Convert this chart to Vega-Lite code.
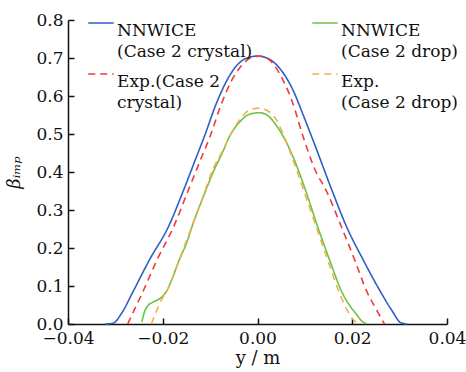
{
  "$schema": "https://vega.github.io/schema/vega-lite/v6.json",
  "width": 379,
  "height": 304,
  "autosize": {"type": "none"},
  "padding": {"left": 68, "top": 20, "right": 19, "bottom": 48},
  "config": {
    "view": {"stroke": null},
    "font": "DejaVu Serif",
    "axis": {
      "labelFont": "DejaVu Serif",
      "titleFont": "DejaVu Serif",
      "labelFontSize": 17,
      "titleFontSize": 18,
      "titleFontWeight": "normal",
      "labelColor": "#111",
      "titleColor": "#111",
      "domainColor": "#111",
      "tickColor": "#111",
      "domainWidth": 1.5,
      "tickWidth": 1.5,
      "tickSize": -6,
      "grid": false
    },
    "legend": {
      "labelFont": "DejaVu Serif"
    }
  },
  "data": {
    "values": [
      {"s": "NNWICE|(Case 2 crystal)", "x": -0.0322, "y": 0},
      {"s": "NNWICE|(Case 2 crystal)", "x": -0.0305, "y": 0.002},
      {"s": "NNWICE|(Case 2 crystal)", "x": -0.0286, "y": 0.030},
      {"s": "NNWICE|(Case 2 crystal)", "x": -0.0264, "y": 0.082},
      {"s": "NNWICE|(Case 2 crystal)", "x": -0.0228, "y": 0.169},
      {"s": "NNWICE|(Case 2 crystal)", "x": -0.0188, "y": 0.256},
      {"s": "NNWICE|(Case 2 crystal)", "x": -0.0158, "y": 0.346},
      {"s": "NNWICE|(Case 2 crystal)", "x": -0.0131, "y": 0.433},
      {"s": "NNWICE|(Case 2 crystal)", "x": -0.0112, "y": 0.494},
      {"s": "NNWICE|(Case 2 crystal)", "x": -0.0087, "y": 0.580},
      {"s": "NNWICE|(Case 2 crystal)", "x": -0.0065, "y": 0.640},
      {"s": "NNWICE|(Case 2 crystal)", "x": -0.0044, "y": 0.680},
      {"s": "NNWICE|(Case 2 crystal)", "x": -0.0020, "y": 0.701},
      {"s": "NNWICE|(Case 2 crystal)", "x": 0.0, "y": 0.705},
      {"s": "NNWICE|(Case 2 crystal)", "x": 0.0020, "y": 0.700},
      {"s": "NNWICE|(Case 2 crystal)", "x": 0.0046, "y": 0.674},
      {"s": "NNWICE|(Case 2 crystal)", "x": 0.0074, "y": 0.618},
      {"s": "NNWICE|(Case 2 crystal)", "x": 0.0099, "y": 0.542},
      {"s": "NNWICE|(Case 2 crystal)", "x": 0.0122, "y": 0.468},
      {"s": "NNWICE|(Case 2 crystal)", "x": 0.0159, "y": 0.346},
      {"s": "NNWICE|(Case 2 crystal)", "x": 0.0188, "y": 0.256},
      {"s": "NNWICE|(Case 2 crystal)", "x": 0.0223, "y": 0.169},
      {"s": "NNWICE|(Case 2 crystal)", "x": 0.0261, "y": 0.082},
      {"s": "NNWICE|(Case 2 crystal)", "x": 0.0284, "y": 0.035},
      {"s": "NNWICE|(Case 2 crystal)", "x": 0.0303, "y": 0.003},
      {"s": "NNWICE|(Case 2 crystal)", "x": 0.0316, "y": 0},

      {"s": "Exp.(Case 2|crystal)", "x": -0.0274, "y": 0},
      {"s": "Exp.(Case 2|crystal)", "x": -0.0259, "y": 0.040},
      {"s": "Exp.(Case 2|crystal)", "x": -0.0243, "y": 0.082},
      {"s": "Exp.(Case 2|crystal)", "x": -0.0212, "y": 0.169},
      {"s": "Exp.(Case 2|crystal)", "x": -0.0177, "y": 0.256},
      {"s": "Exp.(Case 2|crystal)", "x": -0.0148, "y": 0.346},
      {"s": "Exp.(Case 2|crystal)", "x": -0.0120, "y": 0.433},
      {"s": "Exp.(Case 2|crystal)", "x": -0.0100, "y": 0.494},
      {"s": "Exp.(Case 2|crystal)", "x": -0.0076, "y": 0.580},
      {"s": "Exp.(Case 2|crystal)", "x": -0.0055, "y": 0.640},
      {"s": "Exp.(Case 2|crystal)", "x": -0.0035, "y": 0.678},
      {"s": "Exp.(Case 2|crystal)", "x": -0.0011, "y": 0.702},
      {"s": "Exp.(Case 2|crystal)", "x": 0.0005, "y": 0.705},
      {"s": "Exp.(Case 2|crystal)", "x": 0.0025, "y": 0.695},
      {"s": "Exp.(Case 2|crystal)", "x": 0.0053, "y": 0.644},
      {"s": "Exp.(Case 2|crystal)", "x": 0.0074, "y": 0.583},
      {"s": "Exp.(Case 2|crystal)", "x": 0.0096, "y": 0.494},
      {"s": "Exp.(Case 2|crystal)", "x": 0.0120, "y": 0.410},
      {"s": "Exp.(Case 2|crystal)", "x": 0.0147, "y": 0.346},
      {"s": "Exp.(Case 2|crystal)", "x": 0.0177, "y": 0.256},
      {"s": "Exp.(Case 2|crystal)", "x": 0.0205, "y": 0.169},
      {"s": "Exp.(Case 2|crystal)", "x": 0.0232, "y": 0.082},
      {"s": "Exp.(Case 2|crystal)", "x": 0.0250, "y": 0.040},
      {"s": "Exp.(Case 2|crystal)", "x": 0.0268, "y": 0},

      {"s": "NNWICE|(Case 2 drop)", "x": -0.0244, "y": 0.006},
      {"s": "NNWICE|(Case 2 drop)", "x": -0.0239, "y": 0.030},
      {"s": "NNWICE|(Case 2 drop)", "x": -0.0232, "y": 0.047},
      {"s": "NNWICE|(Case 2 drop)", "x": -0.0220, "y": 0.058},
      {"s": "NNWICE|(Case 2 drop)", "x": -0.0205, "y": 0.068},
      {"s": "NNWICE|(Case 2 drop)", "x": -0.0192, "y": 0.086},
      {"s": "NNWICE|(Case 2 drop)", "x": -0.0180, "y": 0.120},
      {"s": "NNWICE|(Case 2 drop)", "x": -0.0165, "y": 0.169},
      {"s": "NNWICE|(Case 2 drop)", "x": -0.0150, "y": 0.212},
      {"s": "NNWICE|(Case 2 drop)", "x": -0.0135, "y": 0.268},
      {"s": "NNWICE|(Case 2 drop)", "x": -0.0116, "y": 0.330},
      {"s": "NNWICE|(Case 2 drop)", "x": -0.0091, "y": 0.407},
      {"s": "NNWICE|(Case 2 drop)", "x": -0.0074, "y": 0.451},
      {"s": "NNWICE|(Case 2 drop)", "x": -0.0059, "y": 0.494},
      {"s": "NNWICE|(Case 2 drop)", "x": -0.0038, "y": 0.531},
      {"s": "NNWICE|(Case 2 drop)", "x": -0.0017, "y": 0.552},
      {"s": "NNWICE|(Case 2 drop)", "x": 0.0004, "y": 0.556},
      {"s": "NNWICE|(Case 2 drop)", "x": 0.0020, "y": 0.550},
      {"s": "NNWICE|(Case 2 drop)", "x": 0.0040, "y": 0.522},
      {"s": "NNWICE|(Case 2 drop)", "x": 0.0061, "y": 0.478},
      {"s": "NNWICE|(Case 2 drop)", "x": 0.0080, "y": 0.425},
      {"s": "NNWICE|(Case 2 drop)", "x": 0.0103, "y": 0.346},
      {"s": "NNWICE|(Case 2 drop)", "x": 0.0127, "y": 0.256},
      {"s": "NNWICE|(Case 2 drop)", "x": 0.0152, "y": 0.169},
      {"s": "NNWICE|(Case 2 drop)", "x": 0.0179, "y": 0.082},
      {"s": "NNWICE|(Case 2 drop)", "x": 0.0195, "y": 0.048},
      {"s": "NNWICE|(Case 2 drop)", "x": 0.0209, "y": 0.025},
      {"s": "NNWICE|(Case 2 drop)", "x": 0.0220, "y": 0.008},
      {"s": "NNWICE|(Case 2 drop)", "x": 0.0230, "y": 0.001},

      {"s": "Exp.|(Case 2 drop)", "x": -0.0224, "y": 0},
      {"s": "Exp.|(Case 2 drop)", "x": -0.0213, "y": 0.035},
      {"s": "Exp.|(Case 2 drop)", "x": -0.0203, "y": 0.063},
      {"s": "Exp.|(Case 2 drop)", "x": -0.0186, "y": 0.100},
      {"s": "Exp.|(Case 2 drop)", "x": -0.0165, "y": 0.169},
      {"s": "Exp.|(Case 2 drop)", "x": -0.0137, "y": 0.262},
      {"s": "Exp.|(Case 2 drop)", "x": -0.0116, "y": 0.332},
      {"s": "Exp.|(Case 2 drop)", "x": -0.0093, "y": 0.410},
      {"s": "Exp.|(Case 2 drop)", "x": -0.0074, "y": 0.455},
      {"s": "Exp.|(Case 2 drop)", "x": -0.0055, "y": 0.502},
      {"s": "Exp.|(Case 2 drop)", "x": -0.0035, "y": 0.542},
      {"s": "Exp.|(Case 2 drop)", "x": -0.0015, "y": 0.564},
      {"s": "Exp.|(Case 2 drop)", "x": 0.0003, "y": 0.568},
      {"s": "Exp.|(Case 2 drop)", "x": 0.0020, "y": 0.562},
      {"s": "Exp.|(Case 2 drop)", "x": 0.0040, "y": 0.537},
      {"s": "Exp.|(Case 2 drop)", "x": 0.0055, "y": 0.498},
      {"s": "Exp.|(Case 2 drop)", "x": 0.0077, "y": 0.425},
      {"s": "Exp.|(Case 2 drop)", "x": 0.0099, "y": 0.346},
      {"s": "Exp.|(Case 2 drop)", "x": 0.0124, "y": 0.256},
      {"s": "Exp.|(Case 2 drop)", "x": 0.0148, "y": 0.169},
      {"s": "Exp.|(Case 2 drop)", "x": 0.0173, "y": 0.082},
      {"s": "Exp.|(Case 2 drop)", "x": 0.0190, "y": 0.035},
      {"s": "Exp.|(Case 2 drop)", "x": 0.0201, "y": 0.013},
      {"s": "Exp.|(Case 2 drop)", "x": 0.0214, "y": 0}
    ]
  },
  "mark": {"type": "line", "interpolate": "monotone", "strokeWidth": 1.6},
  "encoding": {
    "x": {
      "field": "x", "type": "quantitative",
      "scale": {"domain": [-0.04, 0.04], "nice": false},
      "axis": {"values": [-0.04, -0.02, 0, 0.02, 0.04], "format": ".2f", "title": "y / m", "labelPadding": 12, "titlePadding": 3, "labelFlush": false}
    },
    "y": {
      "field": "y", "type": "quantitative",
      "scale": {"domain": [0, 0.8], "nice": false},
      "axis": {"values": [0, 0.1, 0.2, 0.3, 0.4, 0.5, 0.6, 0.7, 0.8], "format": ".1f", "title": "βᵢₘₚ", "titleFontStyle": "italic", "labelPadding": 11, "titlePadding": 12, "labelFlush": false}
    },
    "color": {
      "field": "s", "type": "nominal",
      "scale": {
        "domain": ["NNWICE|(Case 2 crystal)", "Exp.(Case 2|crystal)", "NNWICE|(Case 2 drop)", "Exp.|(Case 2 drop)"],
        "range": ["#2e5fc6", "#f23a3a", "#6cc247", "#f2b04c"]
      },
      "legend": {
        "title": null,
        "orient": "none",
        "legendX": 19,
        "legendY": -11,
        "columns": 2,
        "columnPadding": 56,
        "rowPadding": -20,
        "symbolType": "stroke",
        "symbolSize": 650,
        "symbolStrokeWidth": 1.6,
        "labelFont": "DejaVu Serif",
        "labelFontSize": 17,
        "labelColor": "#111",
        "labelLimit": 0,
        "labelOffset": 2,
        "labelBaseline": "top",
        "labelExpr": "split(datum.label, '|')",
        "encode": {"labels": {"update": {"lineHeight": {"value": 21}}}}
      }
    },
    "strokeDash": {
      "field": "s", "type": "nominal",
      "scale": {
        "domain": ["NNWICE|(Case 2 crystal)", "Exp.(Case 2|crystal)", "NNWICE|(Case 2 drop)", "Exp.|(Case 2 drop)"],
        "range": [[1, 0], [7, 5], [1, 0], [7, 5]]
      },
      "legend": null
    }
  }
}
